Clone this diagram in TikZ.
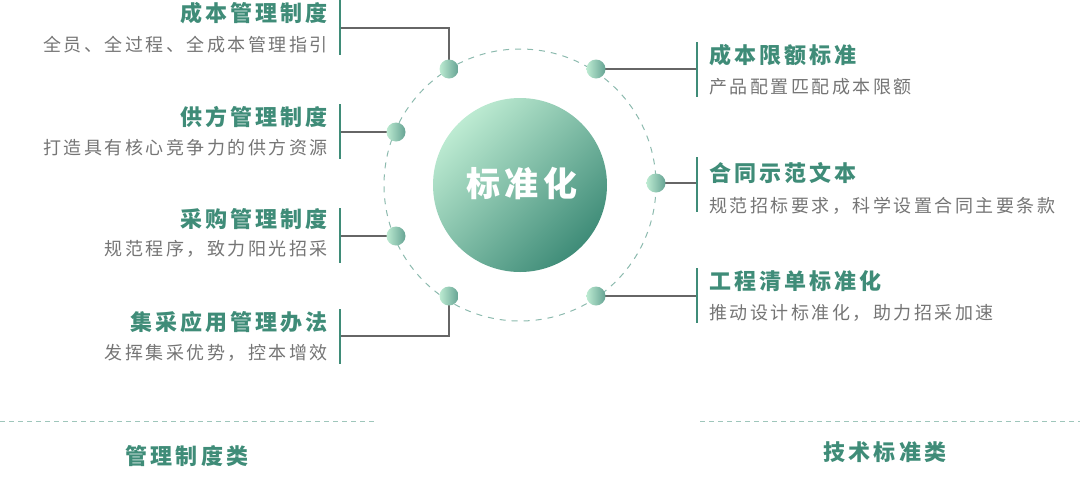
\documentclass[tikz,border=0pt]{standalone}
\usepackage{fontspec}
\newfontfamily\cjk[LetterSpace=14]{Noto Sans CJK SC}
\usetikzlibrary{positioning}
\definecolor{teal1}{HTML}{3F8C78}
\definecolor{mint}{HTML}{BDEBD2}
\definecolor{lineg}{HTML}{666666}
\tikzset{
  title/.style={font=\cjk\bfseries\fontsize{22}{22}\selectfont, text=teal1, inner sep=0pt},
  sub/.style={font=\cjk\fontsize{18}{18}\selectfont, text=lineg!90, inner sep=0pt},
  bar/.style={teal1, line width=2.6pt},
  link/.style={lineg, line width=1.3pt},
  dot/.style={circle, minimum size=19pt, inner sep=0pt, left color=mint, right color=teal1!80}
}
\begin{document}
\begin{tikzpicture}[x=1pt, y=-1pt]
\useasboundingbox (0,0) rectangle (1080,491);

% 虚线圆与中心圆
\draw[teal1!60, line width=1pt, dash pattern=on 6pt off 6pt] (520,185) circle (136);
\shade[top color=mint, bottom color=teal1, shading angle=45] (520,185) circle (87);
\node[font=\cjk\bfseries\fontsize{34}{34}\selectfont, text=white] (core) at (522,184) {标准化};

% 圆点
\foreach \n/\x/\y in {a/449/69, b/396/132, c/396/236, d/449/296, e/596/69, f/656/183, g/596/296}
  \coordinate (p\n) at (\x,\y);

% 左侧
\draw[link] (pa) -- (449,28) -- (340,28);
\draw[link] (pb) -- (340,132);
\draw[link] (pc) -- (340,236);
\draw[link] (pd) -- (449,336) -- (340,336);
\foreach \y in {0,104,208,309} \draw[bar] (340,\y) -- (340,\y+55);

\node[title, anchor=east] (t1) at (328,13) {成本管理制度};
\node[sub, anchor=east] (s1) at (328,45) {全员、全过程、全成本管理指引};
\node[title, anchor=east] (t2) at (328,117) {供方管理制度};
\node[sub, anchor=east] (s2) at (328,148) {打造具有核心竞争力的供方资源};
\node[title, anchor=east] (t3) at (328,219) {采购管理制度};
\node[sub, anchor=east] (s3) at (328,249) {规范程序，致力阳光招采};
\node[title, anchor=east] (t4) at (328,322) {集采应用管理办法};
\node[sub, anchor=east] (s4) at (328,353) {发挥集采优势，控本增效};

% 右侧
\draw[link] (pe) -- (697,69);
\draw[link] (pf) -- (697,183);
\draw[link] (pg) -- (697,296);
\foreach \y in {42,157,268} \draw[bar] (697,\y) -- (697,\y+55);

\node[title, anchor=west] (t5) at (709,55) {成本限额标准};
\node[sub, anchor=west] (s5) at (709,87) {产品配置匹配成本限额};
\node[title, anchor=west] (t6) at (709,173) {合同示范文本};
\node[sub, anchor=west] (s6) at (709,206) {规范招标要求，科学设置合同主要条款};
\node[title, anchor=west] (t7) at (709,281) {工程清单标准化};
\node[sub, anchor=west] (s7) at (709,313) {推动设计标准化，助力招采加速};

\foreach \n in {a,b,c,d,e,f,g} \node[dot] at (p\n) {};

% 底部分类
\draw[teal1!50, line width=1pt, dash pattern=on 5pt off 4pt] (0,421) -- (375,421);
\draw[teal1!50, line width=1pt, dash pattern=on 5pt off 4pt] (700,421) -- (1080,421);
\node[title] (k1) at (187,456) {管理制度类};
\node[title] (k2) at (885,452) {技术标准类};
\end{tikzpicture}
\end{document}
